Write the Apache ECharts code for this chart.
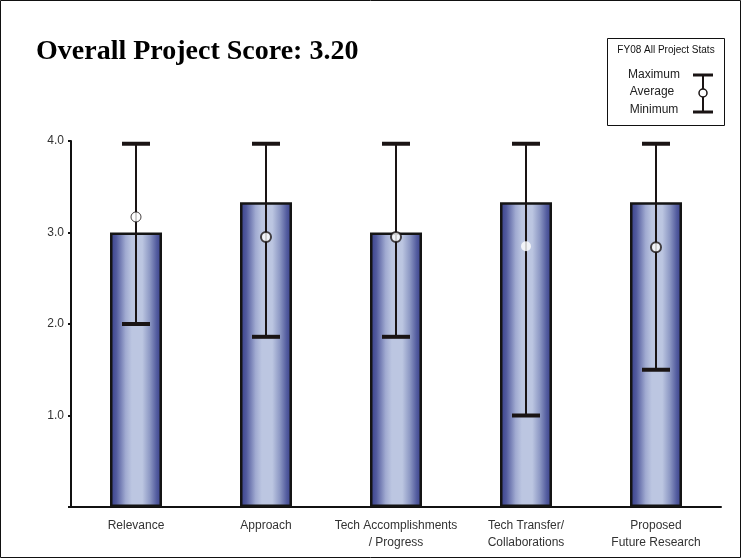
<!DOCTYPE html>
<html>
<head>
<meta charset="utf-8">
<script src="https://cdn.jsdelivr.net/npm/echarts@6/dist/echarts.min.js"></script>
<style>
html,body{margin:0;padding:0;background:#fff;}
#chart{width:741px;height:558px;}
</style>
</head>
<body>
<div id="chart"></div>
<script>
// ---- data ----
const categories = ['Relevance', 'Approach', 'Tech Accomplishments\n/ Progress', 'Tech Transfer/\nCollaborations', 'Proposed\nFuture Research'];
const barValues = [3.0, 3.33, 3.0, 3.33, 3.33];
const maxValues = [3.97, 3.97, 3.97, 3.97, 3.97];
const avgValues = [3.17, 2.95, 2.95, 2.85, 2.84];
const minValues = [2.0, 1.86, 1.86, 1.0, 1.5];
const yTicks = [0, 1, 2, 3, 4];
const titleText = 'Overall Project Score: 3.20';
const legendTitle = 'FY08 All Project Stats';
const legendLabels = ['Maximum', 'Average', 'Minimum'];

// marker look per category (rendering quirks of the original)
const markerBorder = [1, 2, 2, 0, 2];

const chart = echarts.init(document.getElementById('chart'), null, {renderer: 'canvas'});

const barGradient = new echarts.graphic.LinearGradient(0, 0, 1, 0, [
  {offset: 0, color: '#373e8a'},
  {offset: 0.12, color: '#515a9d'},
  {offset: 0.3, color: '#a0aad1'},
  {offset: 0.42, color: '#bcc6e1'},
  {offset: 0.62, color: '#bcc6e1'},
  {offset: 0.76, color: '#8f9ac5'},
  {offset: 0.9, color: '#525b9e'},
  {offset: 1, color: '#373e8a'}
]);

const errData = categories.map((c, i) => [i, minValues[i], maxValues[i]]);

const option = {
  animation: false,
  backgroundColor: '#fff',
  title: {
    text: titleText,
    left: 31,
    top: 33,
    textStyle: {fontFamily: 'Liberation Serif', fontWeight: 'bold', fontSize: 28, color: '#000'}
  },
  grid: {left: 71, right: 20, top: 141, bottom: 51, containLabel: false},
  xAxis: {
    type: 'category',
    data: categories,
    axisLine: {lineStyle: {color: '#111', width: 2}},
    axisTick: {show: false},
    axisLabel: {margin: 10, fontFamily: 'Liberation Sans', fontSize: 12, color: '#333', lineHeight: 17, interval: 0}
  },
  yAxis: {
    type: 'value',
    min: yTicks[0],
    max: yTicks[yTicks.length - 1],
    interval: 1,
    splitLine: {show: false},
    axisLine: {show: true, lineStyle: {color: '#111', width: 2}},
    axisTick: {show: true, length: 3, lineStyle: {color: '#111', width: 2}},
    axisLabel: {
      margin: 7,
      fontFamily: 'Liberation Sans', fontSize: 12, color: '#333',
      formatter: v => v === 0 ? '' : v.toFixed(1)
    }
  },
  series: [
    {
      type: 'bar',
      data: barValues,
      barWidth: '40%',
      itemStyle: {color: barGradient, borderColor: '#141414', borderWidth: 2.5},
      z: 2
    },
    {
      type: 'custom',
      data: errData,
      z: 5,
      renderItem: function (params, api) {
        const x = api.value(0);
        const pMin = api.coord([x, api.value(1)]);
        const pMax = api.coord([x, api.value(2)]);
        const half = 14;
        return {
          type: 'group',
          children: [
            {type: 'line', shape: {x1: pMin[0], y1: pMin[1], x2: pMax[0], y2: pMax[1]}, style: {stroke: '#1a1414', lineWidth: 2}},
            {type: 'line', shape: {x1: pMax[0] - half, y1: pMax[1], x2: pMax[0] + half, y2: pMax[1]}, style: {stroke: '#1a1414', lineWidth: 4}},
            {type: 'line', shape: {x1: pMin[0] - half, y1: pMin[1], x2: pMin[0] + half, y2: pMin[1]}, style: {stroke: '#1a1414', lineWidth: 4}}
          ]
        };
      }
    },
    {
      type: 'scatter',
      z: 6,
      symbol: 'circle',
      symbolSize: 10,
      data: avgValues.map((v, i) => ({
        value: [i, v],
        itemStyle: {color: '#fff', borderColor: '#1a1414', borderWidth: markerBorder[i]}
      }))
    }
  ],
  graphic: [
    {type: 'rect', shape: {x: 0.5, y: 0.5, width: 740, height: 557}, style: {fill: 'none', stroke: '#111', lineWidth: 1}, silent: true},
    {
      type: 'group', left: 607, top: 38,
      children: [
        {type: 'rect', shape: {x: 0.5, y: 0.5, width: 117, height: 87}, style: {fill: '#fff', stroke: '#111', lineWidth: 1}},
        {type: 'text', x: 59, y: 12, style: {text: legendTitle, align: 'center', verticalAlign: 'middle', fontFamily: 'Liberation Sans Narrow, Liberation Sans', fontSize: 10, fill: '#111'}},
        {type: 'text', x: 47, y: 37, style: {text: legendLabels[0], align: 'center', verticalAlign: 'middle', fontFamily: 'Liberation Sans', fontSize: 12, fill: '#222'}},
        {type: 'text', x: 45, y: 54, style: {text: legendLabels[1], align: 'center', verticalAlign: 'middle', fontFamily: 'Liberation Sans', fontSize: 12, fill: '#222'}},
        {type: 'text', x: 47, y: 72, style: {text: legendLabels[2], align: 'center', verticalAlign: 'middle', fontFamily: 'Liberation Sans', fontSize: 12, fill: '#222'}},
        {type: 'line', shape: {x1: 96, y1: 37, x2: 96, y2: 74}, style: {stroke: '#1a1414', lineWidth: 2}},
        {type: 'line', shape: {x1: 86, y1: 37, x2: 106, y2: 37}, style: {stroke: '#1a1414', lineWidth: 3}},
        {type: 'line', shape: {x1: 86, y1: 74, x2: 106, y2: 74}, style: {stroke: '#1a1414', lineWidth: 3}},
        {type: 'circle', shape: {cx: 96, cy: 55, r: 4}, style: {fill: '#fff', stroke: '#1a1414', lineWidth: 1.5}}
      ]
    }
  ]
};
chart.setOption(option);
</script>
</body>
</html>
